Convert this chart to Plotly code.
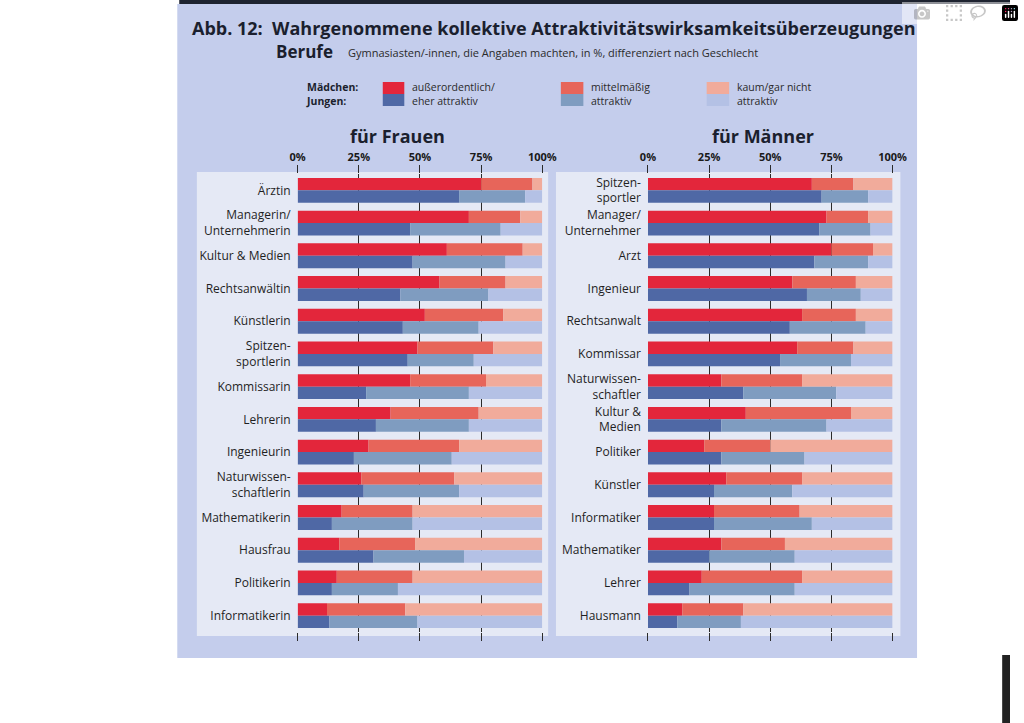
import numpy as np
import plotly.graph_objects as go

# ---------------- data ----------------
frauen_cats = ["Ärztin", "Managerin/<br>Unternehmerin", "Kultur & Medien", "Rechtsanwältin",
               "Künstlerin", "Spitzen-<br>sportlerin", "Kommissarin", "Lehrerin", "Ingenieurin",
               "Naturwissen-<br>schaftlerin", "Mathematikerin", "Hausfrau", "Politikerin",
               "Informatikerin"]
frauen_maedchen_hoch = [75, 70, 61, 58, 52, 49, 46, 38, 29, 26, 18, 17, 16, 12]
frauen_maedchen_mittel = [21, 21, 31, 27, 32, 31, 31, 36, 37, 38, 29, 31, 31, 32]
frauen_maedchen_kaum = [4, 9, 8, 15, 16, 20, 23, 26, 34, 36, 53, 52, 53, 56]
frauen_jungen_hoch = [66, 46, 47, 42, 43, 45, 28, 32, 23, 27, 14, 31, 14, 13]
frauen_jungen_mittel = [27, 37, 38, 36, 31, 27, 42, 38, 40, 39, 33, 37, 27, 36]
frauen_jungen_kaum = [7, 17, 15, 22, 26, 28, 30, 30, 37, 34, 53, 32, 59, 51]

maenner_cats = ["Spitzen-<br>sportler", "Manager/<br>Unternehmer", "Arzt", "Ingenieur",
                "Rechtsanwalt", "Kommissar", "Naturwissen-<br>schaftler", "Kultur &<br>Medien",
                "Politiker", "Künstler", "Informatiker", "Mathematiker", "Lehrer", "Hausmann"]
maenner_maedchen_hoch = [67, 73, 75, 59, 63, 61, 30, 40, 23, 32, 27, 30, 22, 14]
maenner_maedchen_mittel = [17, 17, 17, 26, 22, 23, 33, 43, 27, 31, 35, 26, 41, 25]
maenner_maedchen_kaum = [16, 10, 8, 15, 15, 16, 37, 17, 50, 37, 38, 44, 37, 61]
maenner_jungen_hoch = [71, 70, 68, 65, 58, 54, 39, 30, 30, 27, 27, 25, 17, 12]
maenner_jungen_mittel = [19, 21, 22, 22, 31, 29, 38, 43, 34, 32, 40, 35, 43, 26]
maenner_jungen_kaum = [10, 9, 10, 13, 11, 17, 23, 27, 36, 41, 33, 40, 40, 62]

tick_vals = [0, 25, 50, 75, 100]
tick_text = ["0%", "25%", "50%", "75%", "100%"]

legend_left = "Mädchen:<br>Jungen:"
legend_items = ["außerordentlich/<br>eher attraktiv", "mittelmäßig<br>attraktiv",
                "kaum/gar nicht<br>attraktiv"]

# ---------------- styles ----------------
W, H = 1024, 723
FONT = "Open Sans"
col_m = ["#e3263b", "#e7655a", "#f1ab9b"]      # Mädchen
col_j = ["#4f68a5", "#7f9cc0", "#b4c1e5"]      # Jungen
BLUE_BG = "#c4cdec"
PANEL_BG = "#e5e9f5"


def px(x):
    return x / W


def py(y):
    return 1 - y / H


fig = go.Figure()


def add_panel(cats, m_series, j_series, xa, ya):
    for grp, series, cols in (("m", m_series, col_m), ("j", j_series, col_j)):
        arr = np.array(series, dtype=float)
        bases = np.vstack([np.zeros(arr.shape[1]), np.cumsum(arr, axis=0)[:-1]])
        for k in range(3):
            fig.add_trace(go.Bar(
                y=cats, x=arr[k], base=bases[k], orientation="h",
                offsetgroup=grp, marker=dict(color=cols[k], line=dict(width=0)),
                xaxis=xa, yaxis=ya, showlegend=False, hoverinfo="x+y"))


add_panel(frauen_cats,
          [frauen_maedchen_hoch, frauen_maedchen_mittel, frauen_maedchen_kaum],
          [frauen_jungen_hoch, frauen_jungen_mittel, frauen_jungen_kaum], "x", "y")
add_panel(maenner_cats,
          [maenner_maedchen_hoch, maenner_maedchen_mittel, maenner_maedchen_kaum],
          [maenner_jungen_hoch, maenner_jungen_mittel, maenner_jungen_kaum], "x2", "y2")

ydom = [py(632), py(174)]
xcommon = dict(range=[0, 100], tickvals=tick_vals, ticktext=tick_text, side="top",
               showgrid=True, gridcolor="#2b2b2b", gridwidth=1, zeroline=False,
               ticks="outside", ticklen=8, tickcolor="#2b2b2b", tickwidth=1, mirror="ticks",
               showline=False,
               tickfont=dict(family=FONT, size=11, color="#1a1a1a", weight="bold"),
               fixedrange=True)
ycommon = dict(autorange="reversed", showgrid=False, ticks="", ticklabelstandoff=6,
               tickfont=dict(family=FONT, size=12, color="#1f1f1f"), fixedrange=True)

fig.update_layout(
    width=W, height=H,
    margin=dict(l=0, r=0, t=0, b=0),
    paper_bgcolor="white", plot_bgcolor="rgba(0,0,0,0)",
    barmode="group", bargap=0.24, bargroupgap=0,
    xaxis=dict(domain=[px(296), px(546)], anchor="y", **xcommon),
    yaxis=dict(domain=ydom, anchor="x", **ycommon),
    xaxis2=dict(domain=[px(654), px(904)], anchor="y2", **xcommon),
    yaxis2=dict(domain=ydom, anchor="x2", **ycommon),
    showlegend=False,
)

shapes = [
    dict(type="rect", xref="paper", yref="paper", x0=px(173), x1=px(929), y0=py(658), y1=py(4),
         fillcolor=BLUE_BG, line=dict(width=0), layer="below"),
    dict(type="rect", xref="paper", yref="paper", x0=px(175), x1=px(1024), y0=py(4), y1=py(0),
         fillcolor="#1e2330", line=dict(width=0), layer="below"),
    dict(type="rect", xref="paper", yref="paper", x0=px(1016), x1=px(1024), y0=py(723), y1=py(655),
         fillcolor="#222222", line=dict(width=0), layer="below"),
    dict(type="rect", xref="paper", yref="paper", x0=px(193), x1=px(552), y0=py(636), y1=py(172),
         fillcolor=PANEL_BG, line=dict(width=0), layer="below"),
    dict(type="rect", xref="paper", yref="paper", x0=px(560), x1=px(912), y0=py(636), y1=py(172),
         fillcolor=PANEL_BG, line=dict(width=0), layer="below"),
]

# legend swatches
sw = [(383, 405), (565, 588), (714, 737)]
for (x0, x1), cm, cj in zip(sw, col_m, col_j):
    shapes.append(dict(type="rect", xref="paper", yref="paper", x0=px(x0), x1=px(x1),
                       y0=py(94), y1=py(82), fillcolor=cm, line=dict(width=0)))
    shapes.append(dict(type="rect", xref="paper", yref="paper", x0=px(x0), x1=px(x1),
                       y0=py(106), y1=py(94), fillcolor=cj, line=dict(width=0)))
fig.update_layout(shapes=shapes)


def ann(text, x, y, size, bold=False, xanchor="left", color="#1b1f2e"):
    fig.add_annotation(text=text, xref="paper", yref="paper", x=px(x), y=py(y),
                       xanchor=xanchor, yanchor="middle", showarrow=False, align="left",
                       borderpad=0,
                       font=dict(family=FONT, size=size, color=color,
                                 weight="bold" if bold else "normal"))


ann("Abb. 12:  Wahrgenommene kollektive Attraktivitätswirksamkeitsüberzeugungen", 187, 28, 18, True)
ann("<b>Berufe</b>", 273, 52, 17)
ann("Gymnasiasten/-innen, die Angaben machten, in %, differenziert nach Geschlecht", 346, 53, 11,
    color="#2a2a2a")
ann(legend_left, 304, 94.5, 10.5, True)
for text, x in zip(legend_items, [412, 595, 744]):
    ann(text, x, 94.5, 10.5, color="#2a2a2a")
ann("für Frauen", 398, 136, 18, True, xanchor="center")
ann("für Männer", 772, 136, 18, True, xanchor="center")

fig.write_html("out.html",
               post_script="document.body.style.margin='0';document.body.style.overflow='hidden';")
